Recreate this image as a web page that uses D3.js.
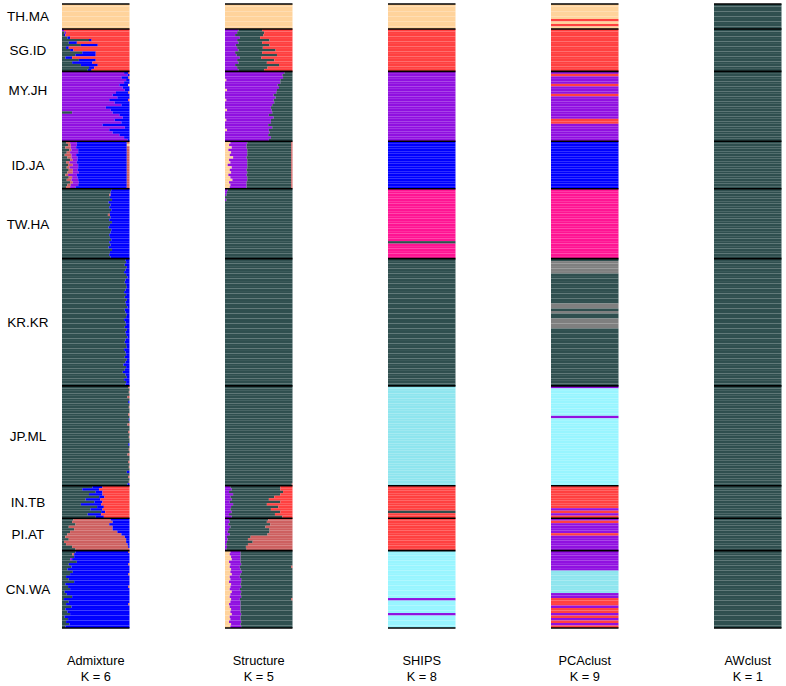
<!DOCTYPE html>
<html><head><meta charset="utf-8">
<script src="https://cdn.jsdelivr.net/npm/d3@7"></script>
<style>
body{margin:0;background:#fff}
text{font-family:"Liberation Sans",Arial,Helvetica,sans-serif;fill:#000}
</style>
</head><body>
<svg id="chart" width="786" height="686"></svg>
<script>
// ---------------- DATA ----------------
const populations = ["TH.MA","SG.ID","MY.JH","ID.JA","TW.HA","KR.KR","JP.ML","IN.TB","PI.AT","CN.WA"];
const popSizes = [10,17,28,19,28,51,40,13,13,31];
const methods = ["Admixture","Structure","SHIPS","PCAclust","AWclust"];
const kLabels = ["K = 6","K = 5","K = 8","K = 9","K = 1"];

// cluster colour codes
const clusterColors = {
  g:"#2F4F4F", r:"#FF4040", p:"#9010E0", b:"#0000FF", w:"#FFD39B",
  s:"#CD6060", k:"#FF1493", c:"#8EE5EE", C:"#98F5FF", e:"#7F7F7F"
};

// Admixture (K=6): per individual, cluster letter + percentage
const admixture = [
 ["w100","w100","w100","w100","w100","w100","w100","w100","w100","w100"],
 ["p3r97","g4p2r94","g3b2r95","g8b4r88","g40b4r56","g10b12r78","g28b25r47","g6b4r90","g12b5r83","g30b20r50","g20b30r50","g5b10r85","g25b25r50","g15b30r55","g28b25r47","g40b8r52","g38b6r56"],
 ["p92b6r2","p97b3","p88b10s2","p95b5","p92b8","p85b13w2","p90b10","p93b7","p80b18s2","p75b25","p82b18","p70b28r2","p78b22","p88b12","p65b35","p72b28","g15p60b25","p85b15","p90b10","p78b22","p88b12","p60b40","p93b7","p70b30","p75b25","p85b15","p92b8","p97b3"],
 ["g6s6p10b74s4","g9s4p9b74w4","g5s8p8b75s4","g11s3p10b72s4","g7s5p12b72s4","g4s10p7b75s4","g8s6p9b73s4","g12s4p7b73s4","g6s5p11b74s4","g9s7p8b72s4","g7s4p13b72s4","g10s6p7b73s4","g8s8p9b71s4","g5s4p13b74s4","g10s5p8b73s4","g7s7p10b72s4","g12s4p9b71s4","g8s5p11b72s4","g6s6p8b76s4"],
 ["g73b27","g72b28","g70s2b28","g71b29","g74b26","g69b31","g72b28","g70b30","g73b27","g71b29","g68s3b29","g72b28","g70b30","g74b26","g71b29","g69b31","g73b27","g72b28","g70b30","g71b29","g73b27","g70b30","g72b28","g69b31","g74b26","g71b29","g70b30","g72b28"],
 ["g94b6","g95b5","g93b7","g96b4","g94b6","g92b8","g95b5","g97b3","g94b6","g93b7",
  "g95b5","g96b4","g94b6","g92b8","g95b5","g93b7","g96b4","g94b6","g95b5","g97b3",
  "g93b7","g94b6","g96b4","g95b5","g92b8","g94b6","g95b5","g93b7","g96b4","g94b6",
  "g95b5","g97b3","g94b6","g93b7","g95b5","g96b4","g92b8","g94b6","g95b5","g93b7",
  "g96b4","g94b6","g91b9","g95b5","g93b7","g90b10","g94b6","g96b4","g92b8","g95b5","g94b6"],
 ["g98s2","g100","g99s1","g100","g97s3","g100","g98b2","g100","g99s1","g100",
  "g100","g98s2","g100","g99b1","g100","g97s3","g100","g100","g98s2","g100",
  "g99s1","g100","g100","g98b2","g100","g99s1","g100","g97s3","g100","g100",
  "g98s2","g100","g99s1","g100","g96b4","g100","g98s2","g100","g99s1","g97b3"],
 ["g45b15r40","g30b25r45","g50b10r40","g40b20r40","g55b8r37","g35b22r43","g48b12r40","g28b30r42","g52b10r38","g42b18r40","g58b6r36","g38b20r42","g50b12r38"],
 ["g17s55b28","g15s60b25","g20s50b30","g10s65b25","g18s57b25","g12s70b18","g8s80b12","g5s88b7","g10s85b5","g3s92b5","g6s91b3","g15s83b2","g20s80"],
 ["g20b78s2","g15s3b82","g18b82","g12p3b85","g22b78","g10b88s2","g14b86","g8b92","g16b84","g12b86s2",
  "g6b94","g10b90","g18b82","g5b95","g9b89s2","g12b88","g4b96","g7b93","g15b85","g3b97",
  "g10b90","g6b92s2","g14b86","g5b95","g8b92","g12b88","g4b96","g9b91","g6b94","g11b89","g5b95"]
];

// Structure (K=5)
const structure = [
 ["w100","w100","w100","w100","w100","w100","w100","w100","w100","w100"],
 ["p20g35r45","p18g40r42","p15g42r43","p22g30r48","p18g48r34","p20g35r45","p16g50r34","p18g38r44","p20g55r25","p15g40r45","p17g60r23","p22g32r46","p18g55r27","p20g42r38","p15g65r20","p18g45r37","p20g38r42"],
 ["p88g12","p85g15","p86g14","w2p80g18","p82g18","p78g22","p80g20","w3p74g23","p76g24","p72g28",
  "p75g25","w2p70g28","p73g27","p70g30","p68g32","w3p66g31","p70g30","p65g35","p72g28","w2p66g32",
  "p68g32","p64g36","p70g30","w3p62g35","p66g34","p64g36","p68g32","p65g35"],
 ["w8p25g65s2","w6p26g66s2","w10p22g66s2","w5p28g65s2","w9p24g65s2","w7p26g65s2","w12p20g66s2","w6p27g65s2","w8p25g65s2","w4p29g65s2",
  "w10p23g65s2","w7p25g66s2","w9p24g65s2","w5p27g66s2","w8p25g65s2","w11p22g65s2","w6p26g66s2","w8p24g66s2","w7p25g66s2"],
 ["p4g96","p3g97","p2g98","g100","p2g98","g100","g100","g100","g100","g100","g100","g100","g100","g100","g100","g100","g100","g100","g100","g100","g100","g100","g100","g100","g100","g100","g100","g100"],
 ["g100","g100","g100","g100","g100","g100","g100","g100","g100","g100","g100","g100","g100","g100","g100","g100","g100","g100","g100","g100","g100","g100","g100","g100","g100","g100","g100","g100","g100","g100","g100","g100","g100","g100","g100","g100","g100","g100","g100","g100","g100","g100","g100","g100","g100","g100","g100","g100","g100","g100","g100"],
 ["g100","g100","g100","g100","g100","g100","g100","g100","g100","g100","g100","g100","g100","g100","g100","g100","g100","g100","g100","g100","g100","g100","g100","g100","g100","g100","g100","g100","g100","g100","g100","g100","g100","g100","g100","g100","g100","g100","g100","g99s1"],
 ["p8g74r18","p10g72r18","p6g80r14","p12g70r18","p8g65r27","p10g55r35","p7g75r18","p12g50r38","p9g70r21","p8g60r32","p10g72r18","p6g68r26","p10g75r15"],
 ["p6g58s36","p7g55s38","p5g62s33","p8g52s40","p6g60s34","p4g62s34","p7g56s37","p3g35s62","p4g30s66","p3g38s59","p2g32s66","p3g28s69","p2g30s68"],
 ["w8p15g77","w7p16g77","w9p14g77","w10p13g77","w6p17g77","w8p16g76","w7p15g76s2","w9p14g77","w8p17g75","w10p13g77",
  "w7p15g78","w8p16g76","w6p18g76","w9p14g77","w8p16g76","w7p15g78","w10p14g76","w8p15g77","w7p17g76","w9p13g76s2",
  "w8p15g77","w6p17g77","w7p16g77","w9p14g77","w8p15g77","w10p14g76","w7p16g77","w8p15g77","w6p18g76","w9p14g77","w8p16g76"]
];

// SHIPS (K=8): one hard cluster letter per individual
const ships = [
 "wwwwwwwwww",
 "rrrrrrrrrrrrrrrrr",
 "pppppppppppppppppppppppppppp",
 "bbbbbbbbbbbbbbbbbbb",
 "kkkkkkkkkkkkkkkkkkkkkgkkkkkk",
 "ggggggggggggggggggggggggggggggggggggggggggggggggggg",
 "cccccccccccccccccccccccccccccccccccccccc",
 "rrrrrrrrrrgrr",
 "rrrrrrrrrrrrr",
 "CCCCCCCCCCCCCCCCCCCpCCCCCpCCCCC"
];

// PCAclust (K=9)
const pcaclust = [
 "wwwwwwrwrw",
 "rrrrrrrrrrrrrrrrr",
 "prppprppprppppppppprrppppppp",
 "bbbbbbbbbbbbbbbbbbb",
 "kkkkkkkkkkkkkkkkkkkkkkkkkkkk",
 "geeeeeggggggggggggeegeggeeeeggggggggggggggggggggggg",
 "pCCCCCCCCCCCpCCCCCCCCCCCCCCCCCCCCCCCCCCC",
 "rrrrrrrrrprpr",
 "prpppprpppppp",
 "ppppppppcccccccccpprrrprrprprpr"
];

// AWclust (K=1)
const awclust = [
 "gggggggggg","ggggggggggggggggg","gggggggggggggggggggggggggggg","ggggggggggggggggggg",
 "gggggggggggggggggggggggggggg","ggggggggggggggggggggggggggggggggggggggggggggggggggg",
 "gggggggggggggggggggggggggggggggggggggggg","ggggggggggggg","ggggggggggggg","ggggggggggggggggggggggggggggggg"
];

// ---------------- PARSING ----------------
function parseMix(s){
  const m=[...s.matchAll(/([a-zA-Z])(\d+)/g)].map(d=>({c:d[1],v:+d[2]}));
  const t=d3.sum(m,d=>d.v);
  return m.map(d=>({c:d.c,f:d.v/t}));
}
function fromMix(groups){ return groups.flatMap(g=>g.map(parseMix)); }
function fromHard(groups){ return groups.flatMap(g=>[...g].map(ch=>[{c:ch,f:1}])); }

const columns = [
  fromMix(admixture), fromMix(structure), fromHard(ships), fromHard(pcaclust), fromHard(awclust)
];

// ---------------- DRAW ----------------
const svg = d3.select("#chart");
const N = d3.sum(popSizes);
const y = d3.scaleLinear().domain([0,N]).range([4,628]);
const colX = d3.scalePoint().domain(methods).range([62,714]);
const colW = 67.5;

const bounds = [0, ...d3.cumsum(popSizes)];

methods.forEach((m,mi)=>{
  const x0 = colX(m);
  const x = d3.scaleLinear().domain([0,1]).range([x0,x0+colW]);
  const g = svg.append("g");
  const rows = columns[mi];
  rows.forEach((segs,i)=>{
    let cum=0;
    segs.forEach(sg=>{
      g.append("rect")
        .attr("x",x(cum)).attr("width",x(cum+sg.f)-x(cum))
        .attr("y",y(i)).attr("height",y(i+1)-y(i))
        .attr("fill",clusterColors[sg.c]);
      cum+=sg.f;
    });
  });
  g.selectAll("line.sep").data(bounds).join("line")
    .attr("x1",x(0)).attr("x2",x(1))
    .attr("y1",d=>y(d)).attr("y2",d=>y(d))
    .attr("stroke","#000").attr("stroke-width",1.6);
  svg.append("text").attr("x",x0+colW/2).attr("y",665).attr("text-anchor","middle")
    .style("font-size","12.8px").text(m);
  svg.append("text").attr("x",x0+colW/2).attr("y",681).attr("text-anchor","middle")
    .style("font-size","12.8px").text(kLabels[mi]);
});

// population labels
populations.forEach((p,i)=>{
  const mid=(bounds[i]+bounds[i+1])/2;
  const shift = p==="MY.JH" ? -16 : 0;
  svg.append("text").attr("x",28).attr("y",y(mid)+5+shift).attr("text-anchor","middle")
    .style("font-size","13.5px").text(p);
});
</script>
</body></html>
